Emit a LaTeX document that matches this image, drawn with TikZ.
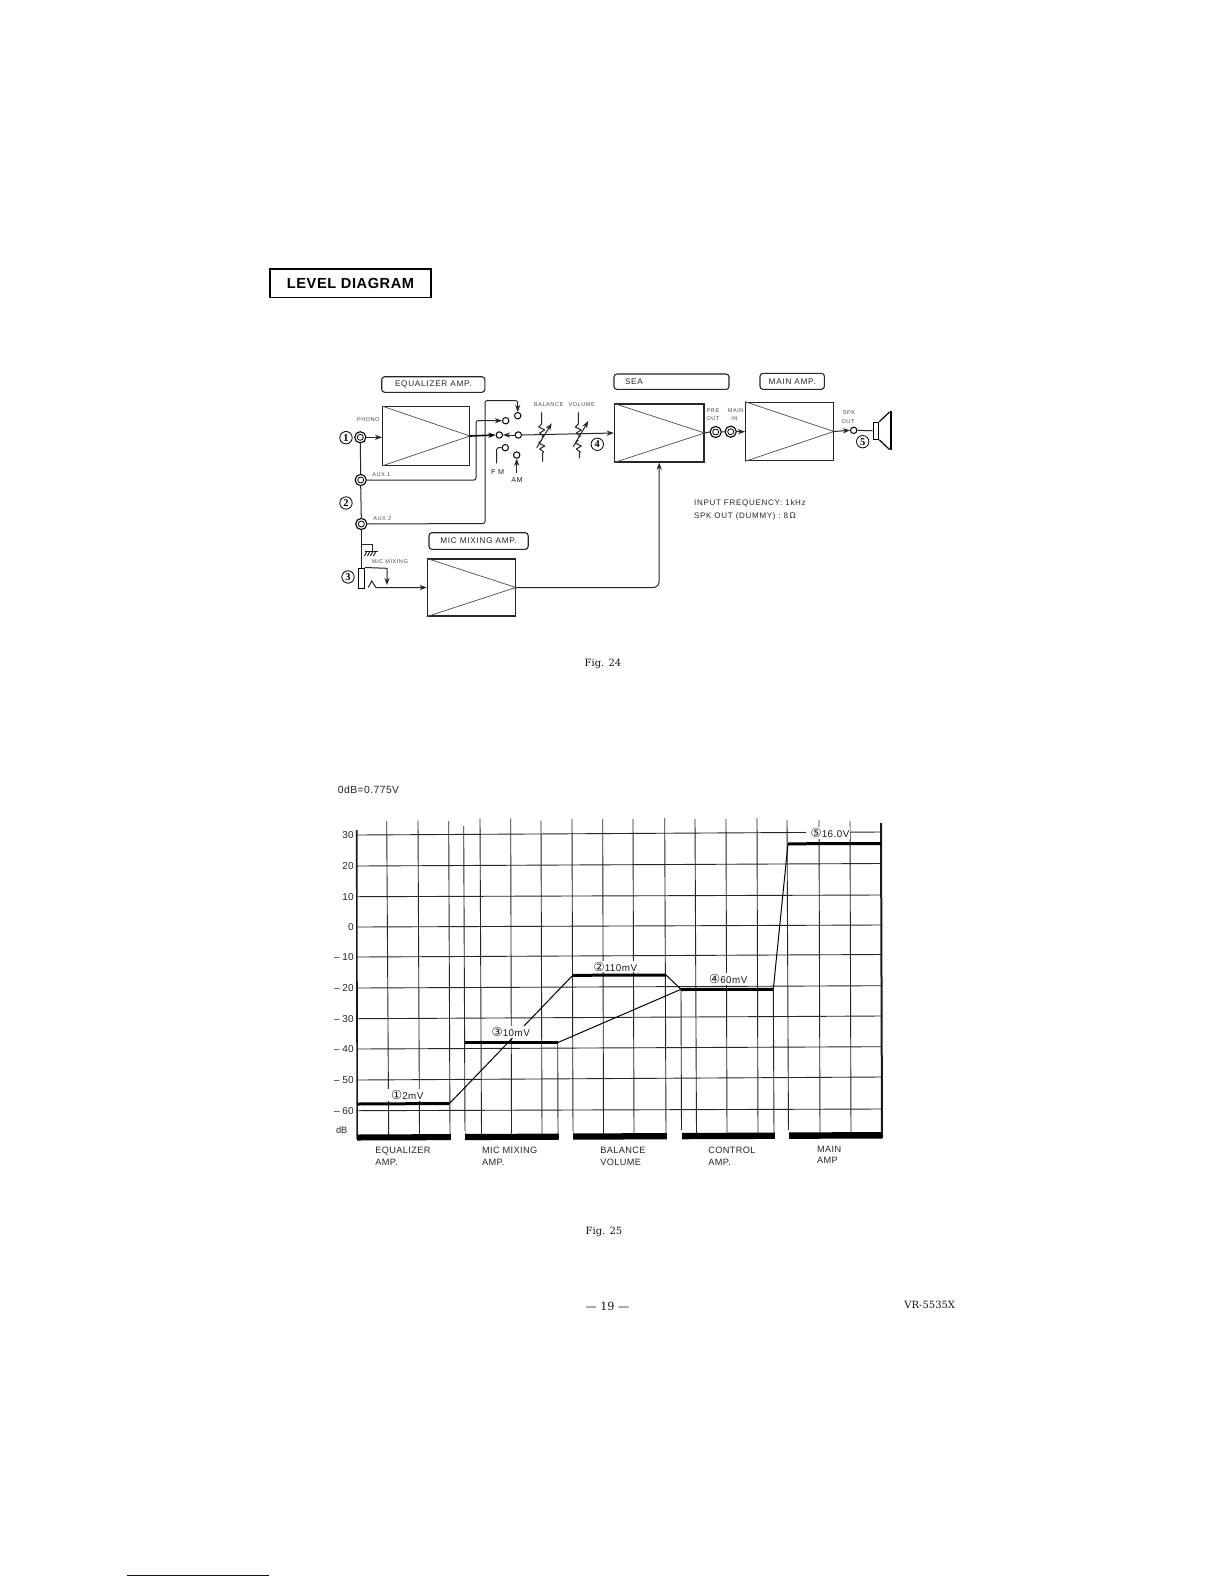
\documentclass[tikz,border=0pt]{standalone}
\usepackage{fontspec}
\usetikzlibrary{arrows.meta}
\setmainfont{Liberation Sans}
\newfontfamily\serifhead{DejaVu Serif}
\newfontfamily\numserif{Liberation Serif}
\newfontfamily\circfont{DejaVu Sans}
\newfontfamily\widesans[LetterSpace=9]{Liberation Sans}
\newfontfamily\lessWide[LetterSpace=4]{Liberation Sans}
\newfontfamily\valfont[LetterSpace=5]{Liberation Sans}
\newcommand{\sz}[1]{\fontsize{#1}{#1}\selectfont}
\newcommand{\cn}[1]{{\circfont\sz{6.2} #1}}
\tikzset{
  >={Stealth[length=3.6pt,width=2.6pt]},
  wire/.style={line width=0.5pt,black!85},
  ampbox/.style={draw,line width=0.6pt,inner sep=0pt,black!85},
  tri/.style={line width=0.35pt,black!70},
  labelbox/.style={draw,rounded corners=1.5pt,line width=0.55pt,inner xsep=0pt,inner ysep=0pt,font=\widesans\sz{4.1},black!85},
  jack/.style={circle,draw,line width=0.55pt,minimum size=5.6pt,inner sep=0pt,fill=white},
  termi/.style={circle,draw,line width=0.5pt,minimum size=3.2pt,inner sep=0pt,fill=white},
  tiny/.style={font=\widesans\sz{2.8},black!70,inner sep=0pt},
  smalltxt/.style={font=\widesans\sz{4},black!85,inner sep=0pt},
  numc/.style={circle,draw,line width=0.4pt,minimum size=6.2pt,inner sep=0pt,font=\numserif\bfseries\sz{5.2}},
  gridl/.style={line width=0.45pt,black!85},
  level/.style={line width=1.5pt,black},
  slope/.style={line width=0.5pt,black},
  tick/.style={font=\sz{5},anchor=east,inner sep=0pt,black!85},
  axl/.style={font=\lessWide\sz{4.6},anchor=west,inner sep=0pt,black!85},
  val/.style={font=\valfont\sz{4.9},anchor=west,inner xsep=0.4pt,inner ysep=0.5pt,fill=white,text=black!90},
  pagetxt/.style={font=\serifhead\sz{5},inner sep=0pt,black!90},
}
\begin{document}
\begin{tikzpicture}[x=0.5pt,y=-0.5pt]
\useasboundingbox (0,0) rectangle (1224,1584);
\fill[white] (0,0) rectangle (1224,1584);

% title
\node[draw,line width=0.7pt,minimum width=80.5pt,minimum height=14.4pt,inner sep=0pt,font=\lessWide\bfseries\sz{7.3}] (title) at (350.5,283.3) {LEVEL DIAGRAM};

% ---------- Fig. 24 blocks
\node[ampbox,minimum width=43.3pt,minimum height=29.3pt] (eq) at (426,436) {};
\node[ampbox,minimum width=44pt,minimum height=28.5pt] (mic) at (471.3,587.5) {};
\node[ampbox,minimum width=44.8pt,minimum height=29pt] (sea) at (659.2,433) {};
\node[ampbox,minimum width=43.8pt,minimum height=29.2pt] (mainamp) at (789.5,431.5) {};
\foreach \b in {eq,mic,sea,mainamp}
  \draw[tri] (\b.north west) -- (\b.east) -- (\b.south west);

\node[labelbox,minimum width=51.6pt,minimum height=7.8pt] (leq) at (433.3,384.5) {EQUALIZER AMP.};
\node[labelbox,minimum width=49.6pt,minimum height=8.3pt] (lmic) at (478.6,541) {MIC MIXING AMP.};
\node[labelbox,minimum width=57.5pt,minimum height=7.7pt,inner xsep=5.5pt,text width=46.5pt,align=left] (lsea) at (671.5,381.7) {SEA};
\node[labelbox,minimum width=32.2pt,minimum height=8pt] (lmain) at (792.2,381.3) {MAIN AMP.};

% jacks
\node[jack] (j1) at (360.3,437.3) {};
\node[jack] (j2) at (360.7,480) {};
\node[jack] (j3) at (361.3,524) {};
\node[jack] (jpre) at (715.7,432) {};
\node[jack] (jmain) at (730.7,431.7) {};
\foreach \j in {j1,j2,j3,jpre,jmain}
  \draw[line width=0.4pt] (\j.center) circle (1.5pt);

% switch terminals
\node[termi] (taux1) at (505.7,420.7) {};
\node[termi] (taux2) at (517.7,415.7) {};
\node[termi] (tcom) at (499.3,435) {};
\node[termi] (tsel) at (518.3,435) {};
\node[termi] (tfm) at (505.3,447.7) {};
\node[termi] (tam) at (516.7,455) {};
\node[termi] (tspk) at (853.7,430.3) {};

% free ends
\coordinate (a1) at (476,480);
\coordinate (a2) at (485,523.5);
\coordinate (a2t) at (485,400.7);
\coordinate (fmend) at (496.7,463.3);
\coordinate (amend) at (516.7,473.3);
\coordinate (micbus) at (361.8,568);
\coordinate (gnd) at (372.3,544);

% plug and speaker
\node[draw,line width=0.5pt,minimum width=3pt,minimum height=10.3pt,inner sep=0pt] (plug) at (361.3,578.3) {};
\node[draw,line width=0.6pt,minimum width=2.7pt,minimum height=8.5pt,inner sep=0pt] (spk) at (876,430.8) {};
\draw[line width=0.6pt] (spk.north east) -- (889.5,412) (spk.south east) -- (889.5,449.5);
\draw[line width=1pt] (890.5,411) -- (890.5,450);

% wires
\draw[wire,->] (j1.east) -- (j1.east -| eq.west);
\draw[wire] (j1.south) -- (j2.north);
\draw[wire] (j2.south) -- (j3.north);
\draw[wire] (j3.south) -- (micbus -| plug.north);
\draw[wire,rounded corners=1pt,->] (j2.east) -- (a1) -- (a1 |- taux1) -- (taux1.west);
\draw[wire,rounded corners=1pt,->] (j3.east) -- (a2) -- (a2t) -- (a2t -| taux2) -- (taux2.north);
\draw[line width=0.8pt,->] (eq.east) -- (tcom.west);
\draw[wire,->] (tsel.west) -- (tcom.east);
\draw[wire,->] (tsel.east) -- (sea.west);
\draw[wire,rounded corners=1pt] (fmend) -- (fmend |- tfm) -- (tfm.west);
\draw[wire,->] (amend) -- (tam.south);
\draw[wire] (sea.east) -- (jpre.west);
\draw[wire] (jpre.east) -- (jmain.west);
\draw[wire,->] (jmain.east) -- (jmain.east -| mainamp.west);
\draw[wire,->] (mainamp.east) -- (tspk.west);
\draw[wire] (tspk.east) -- (spk.west);
\draw[wire,rounded corners=3pt,->] (mic.east) -- (mic.east -| sea.south) -- (sea.south);

% ground
\draw[wire] (362,544) -- (gnd) -- (372.3,550.5);
\draw[wire] (365,551) -- (378,551);
\foreach \x in {367,370,373,376}
  \draw[line width=0.35pt] (\x,551) -- ++(-2.5,5);

% mic jack
\draw[wire,->] (plug.north east) -- (387,568.3) -- (387,585);
\draw[wire,->] (368.3,587.3) -- (371.7,581) -- (376,587.7) -- (mic.west);

% resistors
\foreach \x/\ytop/\ybot/\ax/\ay/\bx/\by/\n in {541.7/412.3/461.7/536.7/447.7/551.7/423.3/bal, 578.3/412.3/458.3/573.3/446.7/588.3/421/vol}{
  \coordinate (\n T) at (\x,\ytop);
  \coordinate (\n B) at (\x+1,\ybot);
  \draw[wire,line join=round] (\n T) -- (\x,424) -- (\x-3,427) -- (\x+3,430) -- (\x-2,433) -- (\x+2,436) -- (\x,437);
  \draw[wire,line join=round] (\x,440) -- (\x-3,443) -- (\x+3,446) -- (\x-2,449) -- (\x+2,452) -- (\x+1,453) -- (\n B);
  \draw[wire,->] (\ax,\ay) -- (\bx,\by);
}

% numbered circles
\node[numc] (n1) at (346,437.7) {1};
\node[numc] (n2) at (346,503) {2};
\node[numc] (n3) at (348,577) {3};
\node[numc] (n4) at (597.3,444.3) {4};
\node[numc] (n5) at (862.7,441.7) {5};

% small labels
\node[tiny] (lphono) at (368.3,420) {PHONO};
\node[tiny] (laux1) at (381.3,474.7) {AUX 1};
\node[tiny] (laux2) at (382.3,518.7) {AUX 2};
\node[tiny] (lmm) at (390,562) {MIC MIXING};
\node[tiny] (lbal) at (548.7,405) {BALANCE};
\node[tiny] (lvol) at (581.7,404.7) {VOLUME};
\node[tiny] (lpre) at (713,410.3) {PRE};
\node[tiny] (lpre2) at (713,419) {OUT};
\node[tiny] (lmi) at (735.7,410.3) {MAIN};
\node[tiny] (lmi2) at (734.3,419) {IN};
\node[tiny] (lspk) at (849,412.7) {SPK};
\node[tiny] (lspk2) at (848,421.7) {OUT};
\node[font=\widesans\sz{3.6},black!85,inner sep=0pt] (lfm) at (497.7,471.7) {F M};
\node[font=\widesans\sz{3.6},black!85,inner sep=0pt] (lam) at (517,480) {AM};
\node[smalltxt,anchor=west] (inp1) at (693.7,503.3) {INPUT FREQUENCY: 1kHz};
\node[smalltxt,anchor=west] (inp2) at (693.7,516) {SPK OUT (DUMMY) : 8\,{\circfont Ω}};
\node[pagetxt] (fig24) at (603,664) {Fig. 24};

% ---------- Fig. 25 chart
\node[font=\lessWide\sz{5.2},anchor=west,inner sep=0pt,black!85] (zero) at (337.5,790) {0dB=0.775V};

\foreach \yl/\yr/\lab in {835/832/30, 866/863.5/20, 896.7/895/10, 927/925/0, 957/954.5/– 10, 988/985.7/– 20, 1018.7/1016/– 30, 1049/1046.7/– 40, 1080/1077/– 50, 1110.7/1109/– 60}{
  \draw[gridl] (356.7,\yl) -- (881.7,\yr);
  \node[tick] at (354,\yl) {\lab};
}
\node[font=\sz{4.6},inner sep=0pt,black!85] (ldb) at (341.7,1130) {dB};

\foreach \t/\b/\ty in {386.7/388.7/821, 418/419.5/820.5, 448.7/450/821, 463.7/465/826, 480/481.5/818.5, 510.7/511.5/818.5, 541/542/820.5, 572/573/819, 602.7/603.5/819, 633/634/819, 664.7/666/818, 726/727/819, 695/696.5/819, 757/758/818, 787/788.5/820, 819/820/820, 850/851/821}
  \draw[gridl] (\t,\ty) -- (\b,1136);
\draw[line width=0.8pt,black!90] (356.7,830) -- (357.2,1139);
\draw[line width=1pt,black!90] (881,823) -- (882,1138);

% verticals that start at the levels
\draw[gridl] (557.7,1042.7) -- (558,1136);
\draw[gridl] (681,989.3) -- (681.5,1136);
\draw[gridl] (773.3,989.3) -- (774,1136);

% bottom band with gaps
\fill[black] (357,1134.5) -- (882,1132) -- (882,1138.5) -- (357,1140.5) -- cycle;
\foreach \a/\b/\yy in {450.5/465/1139, 558.5/573/1138.5, 666.5/681.5/1138, 774.5/788.5/1137.5}
  \fill[white] (\a,\yy-8) rectangle (\b,\yy+3);

% levels and slopes
\draw[slope] (449,1104) -- (573,975);
\draw[slope] (557.5,1042.7) -- (681,989.3);
\draw[slope] (666,975) -- (681,989.3);
\draw[slope] (773.3,989.3) -- (788,843.7);
\draw[level] (357,1104) -- (449,1103.5);
\draw[level] (465,1042.7) -- (557.7,1042.7);
\draw[level] (573,975.3) -- (666,975);
\draw[level] (681,989.5) -- (773.3,989.3);
\draw[level] (788,843.8) -- (881,843.5);

\node[val] (v1) at (386,1095) {\cn{①}2mV};
\node[val] (v3) at (486.5,1032) {\cn{③}10mV};
\node[val] (v2) at (588.5,966.7) {\cn{②}110mV};
\node[val] (v4) at (704,979) {\cn{④}60mV};
\node[val] (v5) at (805.5,833) {\cn{⑤}16.0V};

\node[axl] (c1a) at (375,1151) {EQUALIZER};
\node[axl] (c1b) at (375,1162.7) {AMP.};
\node[axl] (c2a) at (481.7,1150.5) {MIC MIXING};
\node[axl] (c2b) at (481.7,1162.5) {AMP.};
\node[axl] (c3a) at (600,1150.5) {BALANCE};
\node[axl] (c3b) at (600,1162) {VOLUME};
\node[axl] (c4a) at (708,1150) {CONTROL};
\node[axl] (c4b) at (708,1162) {AMP.};
\node[axl] (c5a) at (816.7,1149.5) {MAIN};
\node[axl] (c5b) at (816.7,1160.5) {AMP};

\node[pagetxt] (fig25) at (604,1232) {Fig. 25};
\node[pagetxt,font=\serifhead\sz{5.6}] (pg) at (607.5,1306.5) {— 19 —};
\node[pagetxt,anchor=east] (model) at (955.5,1304.5) {VR-5535X};

% bottom rule
\draw[line width=0.7pt,color=blue!60!black] (127,1575.3) -- (269,1575.3);
\end{tikzpicture}
\end{document}
